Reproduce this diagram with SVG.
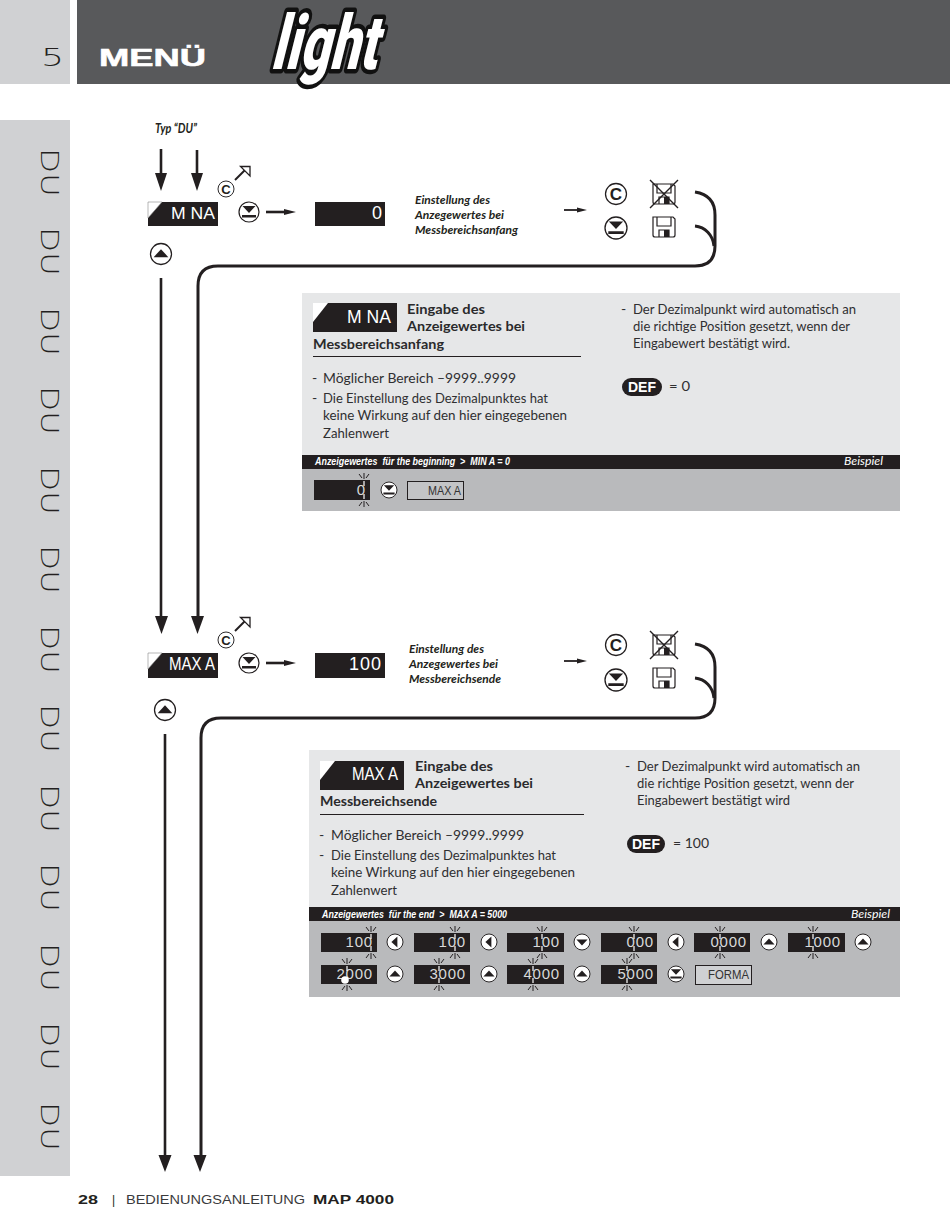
<svg xmlns="http://www.w3.org/2000/svg" width="950" height="1231" viewBox="0 0 950 1231">
<style>
text{font-family:"Lato","Liberation Sans",sans-serif;fill:#231f20}
.side{fill:#d0d1d3}
.blk{fill:#231f20}
.wire{fill:none;stroke:#231f20;stroke-width:3}
.shaft{fill:none;stroke:#231f20;stroke-width:2.6}
.thin{fill:none;stroke:#231f20;stroke-width:1.8}
.du{font-family:"DejaVu Sans",sans-serif;font-size:25px;font-weight:200;fill:#231f20}
.nd{font-family:"Liberation Sans",sans-serif;fill:#fff}
.val{font-family:"Liberation Sans",sans-serif;fill:#d8d9da;font-size:15px;letter-spacing:.8px;text-anchor:end}
.note{font-size:11.5px;font-weight:700;font-style:italic}
.tt{font-size:14px;font-weight:700;fill:#2a2a2c}
.bd{font-size:14px;fill:#2f2f31}
.st{font-family:"Liberation Sans",sans-serif;font-size:10px;font-weight:700;font-style:italic;fill:#fff;white-space:pre}
.bsp{font-size:11.5px;font-style:italic;fill:#fff}
.box{font-family:"Liberation Sans",sans-serif;font-size:13px;fill:#333}
.ico{fill:none;stroke:#231f20;stroke-width:1.2}
.cc{font-family:"Liberation Sans",sans-serif;font-weight:700;text-anchor:middle}
</style>
<defs>
<g id="btnBase"><circle r="10" fill="#fff" stroke="#231f20" stroke-width="1.2"/></g>
<g id="bUp"><use href="#btnBase"/><path d="M-7 3H7L0-4.500Z" fill="#231f20"/></g>
<g id="bDown"><use href="#btnBase"/><path d="M-7-3H7L0 4.500Z" fill="#231f20"/></g>
<g id="bLeft"><use href="#btnBase"/><path d="M3-7V7L-4.500 0Z" fill="#231f20"/></g>
<g id="bEnter"><use href="#btnBase"/><path d="M-6.500-6H6.500L0 1Z M-7 3H7V5.500H-7Z" fill="#231f20"/></g>
<path id="corner" d="M0 0H14L0 16Z" fill="#fff" stroke="#888" stroke-width=".6"/>
<g id="floppy"><path class="ico" d="M-11-10H9L11-8V8Q11 10 9 10H-9Q-11 10-11 8Z M-7-10V-1H7V-10 M-5 10V3H5V10"/><rect x="0" y="3" width="5" height="7" fill="#231f20"/></g>
<g id="upArrow"><path d="M235 180 246 169" stroke="#231f20" stroke-width="2" fill="none"/><path d="M240.500 166.500H250V176Z" fill="#fff" stroke="#231f20" stroke-width="1.300"/></g>
<g id="burstW"><path d="M0 1V6" stroke="#fff" stroke-width="1.200" fill="none"/><path d="M0-1V-7 M-2-2-5-6 M2-2 5-6" stroke="#231f20" stroke-width="1" fill="none"/></g>
</defs>

<g id="header">
<rect class="side" x="0" y="0" width="70" height="84"/>
<rect x="77" y="0" width="873" height="84" fill="#58595b"/>
<text x="41" y="66" font-size="25" font-weight="200" textLength="23" lengthAdjust="spacingAndGlyphs" style="font-family:'DejaVu Sans',sans-serif">5</text>
<text x="99" y="66" font-size="24" font-weight="700" textLength="107" lengthAdjust="spacingAndGlyphs" stroke="#fff" stroke-width=".6" style="font-family:'Liberation Sans',sans-serif;fill:#fff">MENÜ</text>
<text transform="translate(270 69) skewX(-14)" font-size="76" font-weight="900" textLength="106" lengthAdjust="spacingAndGlyphs" paint-order="stroke" stroke="#111" stroke-width="9" stroke-linejoin="round" style="font-family:'Roboto',sans-serif;fill:#fff">light</text>
</g>

<g id="sidebar">
<rect class="side" x="0" y="120" width="70" height="1056"/>
<text class="du" transform="translate(41 148) rotate(90)" textLength="49" lengthAdjust="spacingAndGlyphs">DU</text>
<text class="du" transform="translate(41 227) rotate(90)" textLength="49" lengthAdjust="spacingAndGlyphs">DU</text>
<text class="du" transform="translate(41 307) rotate(90)" textLength="49" lengthAdjust="spacingAndGlyphs">DU</text>
<text class="du" transform="translate(41 386) rotate(90)" textLength="49" lengthAdjust="spacingAndGlyphs">DU</text>
<text class="du" transform="translate(41 466) rotate(90)" textLength="49" lengthAdjust="spacingAndGlyphs">DU</text>
<text class="du" transform="translate(41 545) rotate(90)" textLength="49" lengthAdjust="spacingAndGlyphs">DU</text>
<text class="du" transform="translate(41 625) rotate(90)" textLength="49" lengthAdjust="spacingAndGlyphs">DU</text>
<text class="du" transform="translate(41 704) rotate(90)" textLength="49" lengthAdjust="spacingAndGlyphs">DU</text>
<text class="du" transform="translate(41 784) rotate(90)" textLength="49" lengthAdjust="spacingAndGlyphs">DU</text>
<text class="du" transform="translate(41 863) rotate(90)" textLength="49" lengthAdjust="spacingAndGlyphs">DU</text>
<text class="du" transform="translate(41 943) rotate(90)" textLength="49" lengthAdjust="spacingAndGlyphs">DU</text>
<text class="du" transform="translate(41 1022) rotate(90)" textLength="49" lengthAdjust="spacingAndGlyphs">DU</text>
<text class="du" transform="translate(41 1102) rotate(90)" textLength="49" lengthAdjust="spacingAndGlyphs">DU</text>
</g>

<text id="typ" x="155" y="133" font-size="13" font-weight="700" font-style="italic" textLength="42" lengthAdjust="spacingAndGlyphs">Typ “DU”</text>

<g id="connectors">
<path class="shaft" d="M197 150V175"/>
<path class="shaft" d="M161 149V175"/>
<path class="blk" d="M155 173H167L161 191Z M191 173H203L197 191Z"/>
<use href="#upArrow"/>
<path class="shaft" stroke-width="2" d="M266 212H285"/><path class="blk" d="M284 209 296 212 284 215Z"/>
<path class="thin" d="M564 210H578"/><path class="blk" d="M577 207.500 587 210 577 212.500Z"/>
<path class="wire" d="M695 192C708 194 715 202 715 215V246Q715 266 695 266H218Q198 266 198 286V618"/>
<path class="wire" d="M695 226C705 227 713 235 714 246"/>
<path class="blk" d="M191 616H204L197.500 634Z"/>
<path class="shaft" d="M161 278V618"/>
<path class="blk" d="M155 616H168L161.500 634Z"/>
<use href="#upArrow" y="451"/>
<path class="shaft" stroke-width="2" d="M266 663H285"/><path class="blk" d="M284 660 296 663 284 666Z"/>
<path class="thin" d="M564 661H578"/><path class="blk" d="M577 658.500 587 661 577 663.500Z"/>
<path class="wire" d="M695 644C708 646 715 654 715 667V698Q715 718 695 718H221Q201 718 201 738V1156"/>
<path class="wire" d="M695 678C705 679 713 687 714 698"/>
<path class="shaft" d="M165 734V1156"/>
<path class="blk" d="M158.500 1155H171.500L165 1172Z M193.500 1155H206.500L200 1172Z"/>
</g>

<g id="node-mna">
<rect class="blk" x="148" y="202" width="70" height="24"/>
<use href="#corner" x="148" y="202"/>
<text class="nd" x="171" y="219" font-size="17" textLength="44" lengthAdjust="spacingAndGlyphs">M NA</text>
</g>
<g id="btn-c1"><use href="#btnBase" transform="translate(226 189) scale(.8)"/><text class="cc" x="226" y="194" font-size="13">C</text></g>
<use id="btn-enter1" href="#bEnter" transform="translate(249 212)"/>
<g id="value-0"><rect class="blk" x="315" y="202" width="70" height="24"/><text class="nd" x="382" y="219" font-size="18" text-anchor="end">0</text></g>
<use id="btn-up1" href="#bUp" transform="translate(161 254) scale(1.050)"/>
<g id="note1">
<text class="note" x="415" y="204" textLength="75" lengthAdjust="spacingAndGlyphs">Einstellung des</text>
<text class="note" x="415" y="219" textLength="89" lengthAdjust="spacingAndGlyphs">Anzegewertes bei</text>
<text class="note" x="415" y="234" textLength="103" lengthAdjust="spacingAndGlyphs">Messbereichsanfang</text>
</g>
<g id="btn-c2"><use href="#btnBase" transform="translate(616 194) scale(1.050)"/><text class="cc" x="616" y="200" font-size="17">C</text></g>
<use id="btn-enter2" href="#bEnter" transform="translate(616 228) scale(1.100)"/>
<g id="floppy-x1" transform="translate(664 194)"><use href="#floppy"/><path d="M-14-14 14 14M14-14-14 14" stroke="#231f20" stroke-width="1.400"/></g>
<use id="floppy1" href="#floppy" transform="translate(664 227)"/>

<g id="panel1">
<rect x="302" y="293" width="598" height="218" fill="#e6e7e8"/>
<rect class="blk" x="302" y="455" width="598" height="14"/>
<rect x="302" y="469" width="598" height="42" fill="#b9babc"/>
<rect class="blk" x="313" y="303" width="84" height="29"/>
<path d="M313 303H328L313 322Z" fill="#fff"/>
<text class="nd" x="347" y="323" font-size="18" textLength="44" lengthAdjust="spacingAndGlyphs">M NA</text>
<text class="tt" x="407" y="314" textLength="78" lengthAdjust="spacingAndGlyphs">Eingabe des</text>
<text class="tt" x="407" y="331" textLength="118" lengthAdjust="spacingAndGlyphs">Anzeigewertes bei</text>
<text class="tt" x="313" y="349" textLength="131" lengthAdjust="spacingAndGlyphs">Messbereichsanfang</text>
<path d="M313 356.500H581" stroke="#231f20"/>
<text class="bd" x="312" y="383">-</text><text class="bd" x="323" y="383" textLength="193" lengthAdjust="spacingAndGlyphs">Möglicher Bereich –9999..9999</text>
<text class="bd" x="312" y="403">-</text><text class="bd" x="323" y="403" textLength="225" lengthAdjust="spacingAndGlyphs">Die Einstellung des Dezimalpunktes hat</text>
<text class="bd" x="323" y="420" textLength="244" lengthAdjust="spacingAndGlyphs">keine Wirkung auf den hier eingegebenen</text>
<text class="bd" x="323" y="438" textLength="66" lengthAdjust="spacingAndGlyphs">Zahlenwert</text>
<text class="bd" x="621" y="314">-</text><text class="bd" x="633" y="314" textLength="223" lengthAdjust="spacingAndGlyphs">Der Dezimalpunkt wird automatisch an</text>
<text class="bd" x="633" y="331" textLength="217" lengthAdjust="spacingAndGlyphs">die richtige Position gesetzt, wenn der</text>
<text class="bd" x="633" y="348" textLength="157" lengthAdjust="spacingAndGlyphs">Eingabewert bestätigt wird.</text>
<rect class="blk" x="622" y="378" width="40" height="18" rx="9"/>
<text x="642" y="392" font-size="14" font-weight="900" text-anchor="middle" style="fill:#fff;font-family:'Liberation Sans',sans-serif">DEF</text>
<text class="bd" x="669" y="391" textLength="21" lengthAdjust="spacingAndGlyphs">= 0</text>
<text class="st" x="315" y="465" textLength="195" lengthAdjust="spacingAndGlyphs">Anzeigewertes  für the beginning  &gt;  MIN A = 0</text>
<text class="bsp" x="844" y="465" textLength="39" lengthAdjust="spacingAndGlyphs">Beispiel</text>
<rect class="blk" x="314" y="480" width="56" height="20"/>
<text class="val" x="366" y="495">0</text>
<use href="#burstW" transform="translate(364 480)"/><use href="#burstW" transform="translate(364 500) scale(1 -1)"/>
<use href="#bEnter" transform="translate(389 490) scale(.8)"/>
<rect x="407.500" y="481.500" width="56" height="18" fill="#c3c4c6" stroke="#231f20"/>
<text class="box" x="428" y="495" textLength="33" lengthAdjust="spacingAndGlyphs">MAX A</text>
</g>

<g id="node-maxa">
<rect class="blk" x="148" y="653" width="70" height="25"/>
<use href="#corner" x="148" y="653"/>
<text class="nd" x="169" y="670" font-size="18" textLength="46" lengthAdjust="spacingAndGlyphs">MAX A</text>
</g>
<g id="btn-c3"><use href="#btnBase" transform="translate(226 640) scale(.8)"/><text class="cc" x="226" y="645" font-size="13">C</text></g>
<use id="btn-enter3" href="#bEnter" transform="translate(249 663)"/>
<g id="value-100"><rect class="blk" x="315" y="653" width="70" height="25"/><text class="nd" x="382" y="670" font-size="18" letter-spacing="1" text-anchor="end">100</text></g>
<use id="btn-up2" href="#bUp" transform="translate(165 710) scale(1.050)"/>
<g id="note2">
<text class="note" x="409" y="653" textLength="75" lengthAdjust="spacingAndGlyphs">Einstellung des</text>
<text class="note" x="409" y="668" textLength="89" lengthAdjust="spacingAndGlyphs">Anzegewertes bei</text>
<text class="note" x="409" y="683" textLength="92" lengthAdjust="spacingAndGlyphs">Messbereichsende</text>
</g>
<g id="btn-c4"><use href="#btnBase" transform="translate(616 645) scale(1.050)"/><text class="cc" x="616" y="651" font-size="17">C</text></g>
<use id="btn-enter4" href="#bEnter" transform="translate(616 680) scale(1.100)"/>
<g id="floppy-x2" transform="translate(664 645)"><use href="#floppy"/><path d="M-14-14 14 14M14-14-14 14" stroke="#231f20" stroke-width="1.400"/></g>
<use id="floppy2" href="#floppy" transform="translate(664 678)"/>

<g id="panel2">
<rect x="309" y="750" width="591" height="247" fill="#e6e7e8"/>
<rect class="blk" x="309" y="907" width="591" height="14"/>
<rect x="309" y="921" width="591" height="76" fill="#b9babc"/>
<rect class="blk" x="320" y="761" width="84" height="29"/>
<path d="M320 761H335L320 780Z" fill="#fff"/>
<text class="nd" x="352" y="780" font-size="18" textLength="46" lengthAdjust="spacingAndGlyphs">MAX A</text>
<text class="tt" x="415" y="771" textLength="78" lengthAdjust="spacingAndGlyphs">Eingabe des</text>
<text class="tt" x="415" y="788" textLength="118" lengthAdjust="spacingAndGlyphs">Anzeigewertes bei</text>
<text class="tt" x="320" y="806" textLength="117" lengthAdjust="spacingAndGlyphs">Messbereichsende</text>
<path d="M320 814.500H584" stroke="#231f20"/>
<text class="bd" x="319" y="840">-</text><text class="bd" x="331" y="840" textLength="193" lengthAdjust="spacingAndGlyphs">Möglicher Bereich –9999..9999</text>
<text class="bd" x="319" y="860">-</text><text class="bd" x="331" y="860" textLength="225" lengthAdjust="spacingAndGlyphs">Die Einstellung des Dezimalpunktes hat</text>
<text class="bd" x="331" y="877" textLength="244" lengthAdjust="spacingAndGlyphs">keine Wirkung auf den hier eingegebenen</text>
<text class="bd" x="331" y="895" textLength="66" lengthAdjust="spacingAndGlyphs">Zahlenwert</text>
<text class="bd" x="625" y="771">-</text><text class="bd" x="637" y="771" textLength="223" lengthAdjust="spacingAndGlyphs">Der Dezimalpunkt wird automatisch an</text>
<text class="bd" x="637" y="788" textLength="217" lengthAdjust="spacingAndGlyphs">die richtige Position gesetzt, wenn der</text>
<text class="bd" x="637" y="805" textLength="153" lengthAdjust="spacingAndGlyphs">Eingabewert bestätigt wird</text>
<rect class="blk" x="627" y="835" width="38" height="18" rx="9"/>
<text x="646" y="849" font-size="14" font-weight="900" text-anchor="middle" style="fill:#fff;font-family:'Liberation Sans',sans-serif">DEF</text>
<text class="bd" x="673" y="848" textLength="36" lengthAdjust="spacingAndGlyphs">= 100</text>
<text class="st" x="322" y="918" textLength="185" lengthAdjust="spacingAndGlyphs">Anzeigewertes  für the end  &gt;  MAX A = 5000</text>
<text class="bsp" x="851" y="918" textLength="39" lengthAdjust="spacingAndGlyphs">Beispiel</text>

<rect class="blk" x="321" y="933" width="56" height="19"/><text class="val" x="373" y="947">100</text>
<rect class="blk" x="414" y="933" width="56" height="19"/><text class="val" x="466" y="947">100</text>
<rect class="blk" x="507" y="933" width="57" height="19"/><text class="val" x="560" y="947">100</text>
<rect class="blk" x="601" y="933" width="56" height="19"/><text class="val" x="654" y="947">000</text>
<rect class="blk" x="694" y="933" width="56" height="19"/><text class="val" x="747" y="947">0000</text>
<rect class="blk" x="788" y="933" width="57" height="19"/><text class="val" x="841" y="947">1000</text>
<rect class="blk" x="321" y="965" width="56" height="19"/><text class="val" x="373" y="979">2000</text>
<rect class="blk" x="414" y="965" width="56" height="19"/><text class="val" x="466" y="979">3000</text>
<rect class="blk" x="507" y="965" width="57" height="19"/><text class="val" x="560" y="979">4000</text>
<rect class="blk" x="601" y="965" width="56" height="19"/><text class="val" x="654" y="979">5000</text>

<use href="#burstW" transform="translate(371 933)"/><use href="#burstW" transform="translate(371 952) scale(1 -1)"/>
<use href="#burstW" transform="translate(455 933)"/><use href="#burstW" transform="translate(455 952) scale(1 -1)"/>
<use href="#burstW" transform="translate(542 933)"/><use href="#burstW" transform="translate(542 952) scale(1 -1)"/>
<use href="#burstW" transform="translate(634 933)"/><use href="#burstW" transform="translate(634 952) scale(1 -1)"/>
<use href="#burstW" transform="translate(720 933)"/><use href="#burstW" transform="translate(720 952) scale(1 -1)"/>
<use href="#burstW" transform="translate(813 933)"/><use href="#burstW" transform="translate(813 952) scale(1 -1)"/>
<use href="#burstW" transform="translate(347 965)"/><use href="#burstW" transform="translate(347 984) scale(1 -1)"/>
<use href="#burstW" transform="translate(439 965)"/><use href="#burstW" transform="translate(439 984) scale(1 -1)"/>
<use href="#burstW" transform="translate(533 965)"/><use href="#burstW" transform="translate(533 984) scale(1 -1)"/>
<use href="#burstW" transform="translate(627 965)"/><use href="#burstW" transform="translate(627 984) scale(1 -1)"/>
<circle cx="345" cy="980" r="3.800" fill="#fff"/>

<use href="#bLeft" transform="translate(395 942) scale(.8)"/>
<use href="#bLeft" transform="translate(489 942) scale(.8)"/>
<use href="#bDown" transform="translate(582 942) scale(.8)"/>
<use href="#bLeft" transform="translate(676 942) scale(.8)"/>
<use href="#bUp" transform="translate(769 942) scale(.8)"/>
<use href="#bUp" transform="translate(863 942) scale(.8)"/>
<use href="#bUp" transform="translate(395 974) scale(.8)"/>
<use href="#bUp" transform="translate(489 974) scale(.8)"/>
<use href="#bUp" transform="translate(582 974) scale(.8)"/>
<use href="#bEnter" transform="translate(676 974) scale(.8)"/>
<rect x="695.500" y="965.500" width="56" height="19" fill="#d0d1d3" stroke="#231f20"/>
<text class="box" x="708" y="979" textLength="41" lengthAdjust="spacingAndGlyphs">FORMA</text>
</g>

<g id="footer">
<text x="78" y="1204" font-size="12" font-weight="700" textLength="20" lengthAdjust="spacingAndGlyphs" style="font-family:'Liberation Sans',sans-serif">28</text>
<text x="112" y="1204" font-size="12" style="font-family:'Liberation Sans',sans-serif">|</text>
<text x="126" y="1204" font-size="12" textLength="179" lengthAdjust="spacingAndGlyphs" style="font-family:'Liberation Sans',sans-serif;fill:#3a3a3c">BEDIENUNGSANLEITUNG</text>
<text x="313" y="1204" font-size="12" font-weight="700" textLength="81" lengthAdjust="spacingAndGlyphs" style="font-family:'Liberation Sans',sans-serif">MAP 4000</text>
</g>
</svg>
